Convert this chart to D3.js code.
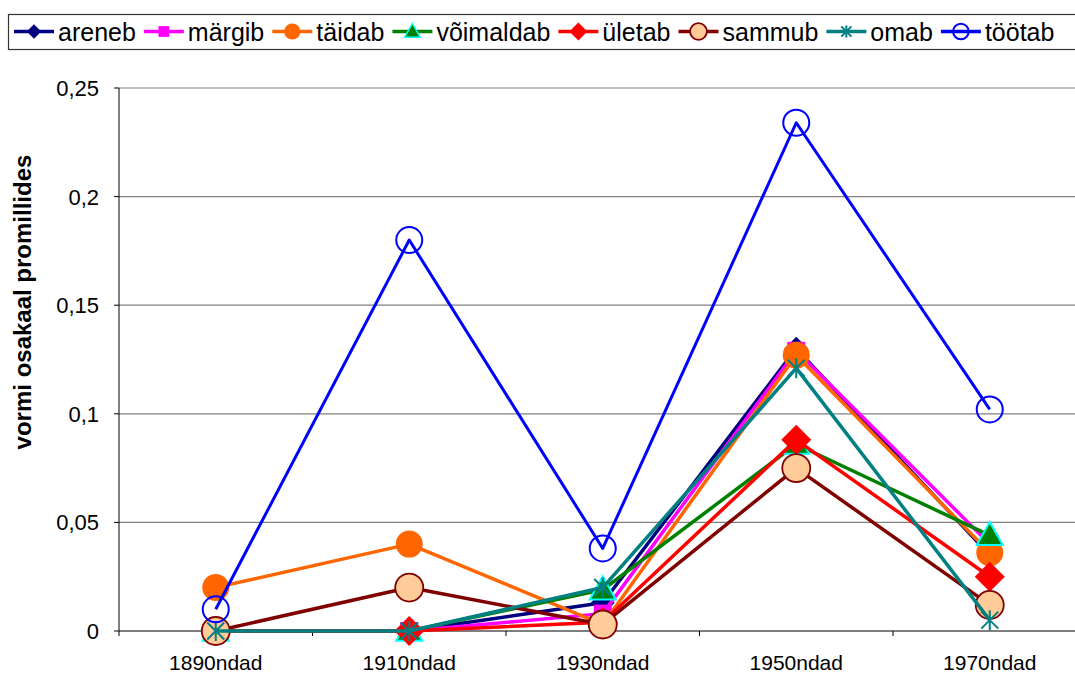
<!DOCTYPE html>
<html>
<head>
<meta charset="utf-8">
<script src="https://cdn.jsdelivr.net/npm/d3@7"></script>
<style>
  html, body { margin: 0; padding: 0; background: #fff; }
  svg { display: block; font-family: "Liberation Sans", Arial, sans-serif; }
</style>
</head>
<body>
<svg id="chart" width="1075" height="675"></svg>
<script>
// ---- data ----
const categories = ["1890ndad", "1910ndad", "1930ndad", "1950ndad", "1970ndad"];
const areneb    = [0, 0, 0.013, 0.130, 0.035];
const margib    = [0, 0, 0.008, 0.129, 0.040];
const taidab    = [0.020, 0.040, 0.003, 0.127, 0.036];
const voimaldab = [0, 0, 0.019, 0.086, 0.044];
const uletab    = [0, 0, 0.004, 0.088, 0.025];
const sammub    = [0, 0.020, 0.003, 0.075, 0.012];
const omab      = [0, 0, 0.020, 0.121, 0.005];
const tootab    = [0.010, 0.180, 0.038, 0.234, 0.102];
const yTicks = [0, 0.05, 0.1, 0.15, 0.2, 0.25];
const yTickLabels = ["0", "0,05", "0,1", "0,15", "0,2", "0,25"];
const yTitle = "vormi osakaal promillides";

const series = [
  { name: "areneb",    values: areneb,    color: "#000080", marker: "diamondS" },
  { name: "märgib",    values: margib,    color: "#FF00FF", marker: "square" },
  { name: "täidab",    values: taidab,    color: "#FF6600", marker: "circle" },
  { name: "võimaldab", values: voimaldab, color: "#008000", marker: "triangle" },
  { name: "ületab",    values: uletab,    color: "#FF0000", marker: "diamond" },
  { name: "sammub",    values: sammub,    color: "#800000", marker: "circleFill" },
  { name: "omab",      values: omab,      color: "#008080", marker: "star" },
  { name: "töötab",    values: tootab,    color: "#0000FF", marker: "circleOpen" }
];

const svg = d3.select("#chart");
const pLeft = 119, pRight = 1086.5, pTop = 88, pBottom = 631;

const x = d3.scalePoint().domain(categories).range([pLeft, pRight]).padding(0.5);
const step = x.step();
const y = d3.scaleLinear().domain([0, 0.25]).range([pBottom, pTop]);

// gridlines
svg.append("g").selectAll("line").data(yTicks.filter(d => d > 0)).join("line")
  .attr("x1", pLeft).attr("x2", 1100)
  .attr("y1", d => y(d)).attr("y2", d => y(d))
  .attr("stroke", "#808080").attr("stroke-width", 1.2);

// axes
svg.append("line").attr("x1", pLeft).attr("x2", pLeft).attr("y1", pTop).attr("y2", pBottom)
  .attr("stroke", "#000").attr("stroke-width", 1);
svg.append("line").attr("x1", pLeft).attr("x2", 1100).attr("y1", pBottom).attr("y2", pBottom)
  .attr("stroke", "#000").attr("stroke-width", 1.2);
svg.append("g").selectAll("line").data(yTicks).join("line")
  .attr("x1", pLeft - 5).attr("x2", pLeft).attr("y1", d => y(d)).attr("y2", d => y(d))
  .attr("stroke", "#000");
svg.append("g").selectAll("text").data(yTicks).join("text")
  .attr("x", 99).attr("y", d => y(d) + 8)
  .attr("text-anchor", "end").attr("font-size", 22).attr("fill", "#000")
  .text((d, i) => yTickLabels[i]);
// category boundary ticks
svg.append("g").selectAll("line").data(d3.range(categories.length + 1)).join("line")
  .attr("x1", i => pLeft + i * step).attr("x2", i => pLeft + i * step)
  .attr("y1", pBottom).attr("y2", pBottom + 5)
  .attr("stroke", "#000");
svg.append("g").selectAll("text").data(categories).join("text")
  .attr("x", d => x(d)).attr("y", 669.5)
  .attr("text-anchor", "middle").attr("font-size", 21).attr("fill", "#000")
  .text(d => d);

// y title
svg.append("text")
  .attr("transform", "translate(31,302) rotate(-90)")
  .attr("text-anchor", "middle").attr("font-size", 24).attr("font-weight", "bold")
  .text(yTitle);

// marker drawing
function drawMarker(g, type, color, cx, cy, s) {
  if (type === "diamondS") {
    const h = 12 * s;
    g.append("path").attr("d", `M${cx},${cy - h}L${cx + h},${cy}L${cx},${cy + h}L${cx - h},${cy}Z`)
      .attr("fill", color);
  } else if (type === "diamond") {
    const h = 15 * s;
    g.append("path").attr("d", `M${cx},${cy - h}L${cx + h},${cy}L${cx},${cy + h}L${cx - h},${cy}Z`)
      .attr("fill", color);
  } else if (type === "square") {
    const h = 9 * s;
    g.append("rect").attr("x", cx - h).attr("y", cy - h).attr("width", 2 * h).attr("height", 2 * h)
      .attr("fill", color);
  } else if (type === "circle") {
    g.append("circle").attr("cx", cx).attr("cy", cy).attr("r", 13.5 * s).attr("fill", color);
  } else if (type === "triangle") {
    const w = 13 * s, hh = 23 * s;
    g.append("path").attr("d", `M${cx},${cy - hh * 0.58}L${cx + w},${cy + hh * 0.42}L${cx - w},${cy + hh * 0.42}Z`)
      .attr("fill", color).attr("stroke", "#00FFFF").attr("stroke-width", 2 * Math.max(s, 0.7));
  } else if (type === "circleFill") {
    g.append("circle").attr("cx", cx).attr("cy", cy).attr("r", 14 * s)
      .attr("fill", "#FFCC99").attr("stroke", color).attr("stroke-width", 1.8);
  } else if (type === "star") {
    const h = 10 * s;
    const d = h * 0.85;
    g.append("path")
      .attr("d", `M${cx},${cy - h}L${cx},${cy + h}M${cx - d},${cy - d}L${cx + d},${cy + d}M${cx - d},${cy + d}L${cx + d},${cy - d}`)
      .attr("stroke", color).attr("stroke-width", 2).attr("fill", "none");
  } else if (type === "circleOpen") {
    g.append("circle").attr("cx", cx).attr("cy", cy).attr("r", 13 * s)
      .attr("fill", "none").attr("stroke", color).attr("stroke-width", 2);
  }
}

// series
const line = d3.line().x((d, i) => x(categories[i])).y(d => y(d));
series.forEach(s => {
  const g = svg.append("g");
  g.append("path").attr("d", line(s.values))
    .attr("fill", "none").attr("stroke", s.color)
    .attr("stroke-width", s.name === "töötab" ? 3 : 3.5)
    .attr("stroke-linejoin", "round");
  s.values.forEach((v, i) => drawMarker(g, s.marker, s.color, x(categories[i]), y(v), 1));
});

// legend
const lg = svg.append("g");
lg.append("rect").attr("x", 8.5).attr("y", 14.5).attr("width", 1090).attr("height", 35)
  .attr("fill", "#fff").attr("stroke", "#333").attr("stroke-width", 1.2);
let lx = 14;
const ly = 31.5;
series.forEach(s => {
  const g = lg.append("g");
  g.append("line").attr("x1", lx).attr("x2", lx + 40).attr("y1", ly).attr("y2", ly)
    .attr("stroke", s.color).attr("stroke-width", 3.5);
  drawMarker(g, s.marker, s.color, lx + 20, ly, 0.6);
  const t = g.append("text").attr("x", lx + 44).attr("y", ly + 9)
    .attr("font-size", 25).attr("fill", "#000").text(s.name);
  const w = t.node().getComputedTextLength();
  lx = lx + 44 + w + 8;
});
</script>
</body>
</html>
